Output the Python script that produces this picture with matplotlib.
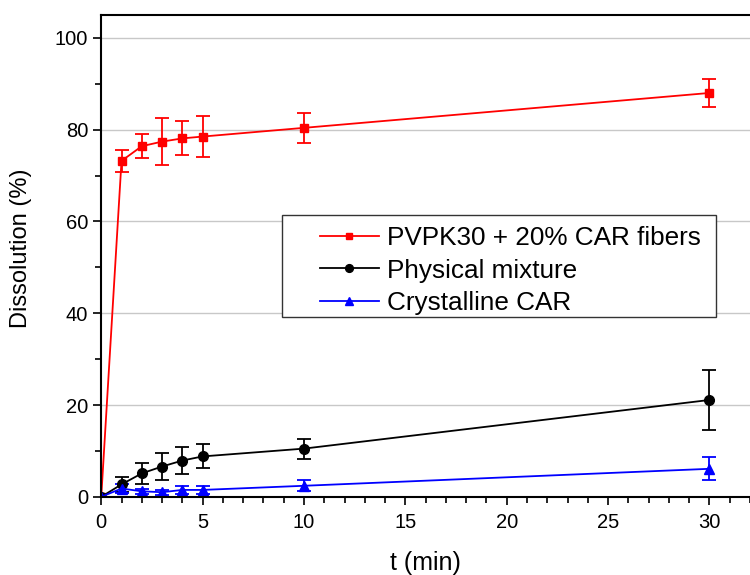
import matplotlib
matplotlib.use("Agg")
import matplotlib.pyplot as plt
from matplotlib.patches import Rectangle
from matplotlib.ticker import MultipleLocator

plt.rcParams['font.family'] = ['Liberation Sans', 'DejaVu Sans']

t = [0, 1, 2, 3, 4, 5, 10, 30]

fibers = [0, 73.2, 76.4, 77.4, 78.1, 78.5, 80.4, 88.0]
fibers_err = [0, 2.4, 2.6, 5.1, 3.7, 4.5, 3.3, 3.1]

mixture = [0, 2.7, 5.1, 6.6, 7.9, 8.8, 10.5, 21.1]
mixture_err = [0, 1.7, 2.3, 2.9, 2.9, 2.6, 2.2, 6.6]

crystal = [0, 1.8, 1.2, 1.0, 1.5, 1.5, 2.4, 6.1]
crystal_err = [0, 1.0, 0.5, 0.5, 0.8, 0.8, 1.2, 2.5]

labels = ['PVPK30 + 20% CAR fibers', 'Physical mixture', 'Crystalline CAR']

fig = plt.figure(figsize=(7.5, 5.75), dpi=100)
ax = fig.add_axes([0.135, 0.136, 0.865, 0.838])

kw = dict(lw=1.3, capsize=5, capthick=1.3, elinewidth=1.3)
e1 = ax.errorbar(t, fibers, yerr=fibers_err, color='#ff0000', marker='s', ms=6, **kw)
e2 = ax.errorbar(t, mixture, yerr=mixture_err, color='black', marker='o', ms=7, **kw)
e3 = ax.errorbar(t, crystal, yerr=crystal_err, color='#0000ff', marker='^', ms=7, **kw)

ax.set_xlim(0, 32)
ax.set_ylim(0, 105)
ax.xaxis.set_major_locator(MultipleLocator(5))
ax.xaxis.set_minor_locator(MultipleLocator(1))
ax.yaxis.set_major_locator(MultipleLocator(20))
ax.yaxis.set_minor_locator(MultipleLocator(10))
ax.tick_params(which='both', direction='out', width=1.2, labelsize=14.5)
ax.tick_params(which='major', length=6)
ax.tick_params(which='minor', length=4)
ax.tick_params(axis='x', pad=6)
ax.tick_params(top=False, right=False, which='both')
ax.grid(axis='y', which='major', color='#c8c8c8', lw=1)
ax.set_axisbelow(True)
ax.spines['right'].set_visible(False)
for s in ['left', 'bottom', 'top']:
    ax.spines[s].set_linewidth(1.5)

ax.set_xlabel('t (min)', fontsize=18, va='top')
ax.set_ylabel('Dissolution (%)', fontsize=17)
ax.xaxis.set_label_coords(0.5, -0.113)
ax.yaxis.set_label_coords(-0.107, 0.515)

# legend box drawn by hand so the left padding matches
box = Rectangle((282 / 750, 1 - 317 / 575), 434 / 750, 102 / 575,
                transform=fig.transFigure, fc='white', ec='#333333',
                lw=1.0, zorder=5, clip_on=False)
ax.add_artist(box)
leg = ax.legend([e1[0], e2[0], e3[0]], labels, loc='upper left',
                bbox_to_anchor=(320 / 750, 1 - 226 / 575),
                bbox_transform=fig.transFigure, fontsize=18.8, frameon=False,
                borderpad=0, borderaxespad=0, handlelength=2.25,
                handletextpad=0.3, labelspacing=0.33, markerscale=0.8)
leg.set_zorder(6)

fig.savefig('out.png', dpi=100)
